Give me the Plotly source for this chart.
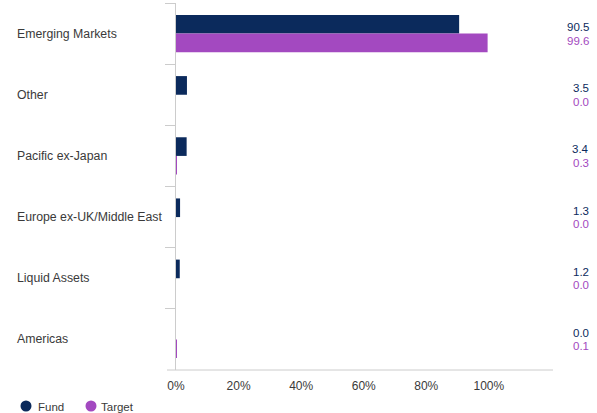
import plotly.graph_objects as go

categories = ["Emerging Markets", "Other", "Pacific ex-Japan",
              "Europe ex-UK/Middle East", "Liquid Assets", "Americas"]
fund = [90.5, 3.5, 3.4, 1.3, 1.2, 0.0]
target = [99.6, 0.0, 0.3, 0.0, 0.0, 0.1]
series_names = ["Fund", "Target"]
x_ticks = [0, 20, 40, 60, 80, 100]
x_tick_labels = ["0%", "20%", "40%", "60%", "80%", "100%"]

FUND_C = "#0b2a5c"
TARGET_C = "#a349c0"
TEXT_C = "#3a3a3a"

W, H = 597, 413
L, R, T, B = 176, 44, 3, 43
pw = W - L - R
ph = H - T - B


def px_x(p):
    return (p - L) / pw


def px_y(p):
    return (H - B - p) / ph


fig = go.Figure()
fig.add_trace(go.Bar(y=categories, x=fund, orientation="h", name=series_names[0],
                     marker=dict(color=FUND_C, line=dict(width=0)),
                     showlegend=False, offsetgroup="f", hoverinfo="skip"))
fig.add_trace(go.Bar(y=categories, x=target, orientation="h", name=series_names[1],
                     marker=dict(color=TARGET_C, line=dict(width=0)),
                     showlegend=False, offsetgroup="t", hoverinfo="skip"))

annotations = []
shapes = [dict(type="line", xref="paper", yref="paper",
               x0=px_x(167), x1=1, y0=0, y1=0,
               line=dict(color="#cccccc", width=1))]

for cat, f, t in zip(categories, fund, target):
    annotations.append(dict(xref="paper", yref="y", x=px_x(15), y=cat,
                            text=cat, showarrow=False, xanchor="left",
                            font=dict(size=12.3, color=TEXT_C)))
    annotations.append(dict(xref="paper", yref="y", x=px_x(591), y=cat,
                            yshift=6.5, text=f"{f:.1f}", showarrow=False,
                            xanchor="right", font=dict(size=11.5, color=FUND_C)))
    annotations.append(dict(xref="paper", yref="y", x=px_x(591), y=cat,
                            yshift=-7, text=f"{t:.1f}", showarrow=False,
                            xanchor="right", font=dict(size=11.5, color=TARGET_C)))

# legend (circle markers + labels)
r = 5.5
for name, color, cx, tx in [(series_names[0], FUND_C, 26, 36),
                            (series_names[1], TARGET_C, 91, 99)]:
    shapes.append(dict(type="circle", xref="paper", yref="paper",
                       x0=px_x(cx - r), x1=px_x(cx + r),
                       y0=px_y(406 + r), y1=px_y(406 - r),
                       fillcolor=color, line=dict(width=0)))
    annotations.append(dict(xref="paper", yref="paper", x=px_x(tx), y=px_y(406.5),
                            text=name, showarrow=False, xanchor="left",
                            yanchor="middle", font=dict(size=11.5, color=TEXT_C)))

fig.update_layout(
    width=W, height=H,
    margin=dict(l=L, r=R, t=T, b=B, autoexpand=False),
    paper_bgcolor="white", plot_bgcolor="white",
    font=dict(family="Liberation Sans, Arial, sans-serif", color=TEXT_C, size=12),
    barmode="group", bargap=0.39, bargroupgap=0,
    showlegend=False,
    hovermode=False,
    xaxis=dict(range=[0, 120.5], tickvals=x_ticks, ticktext=x_tick_labels,
               showgrid=False, zeroline=False, showline=False,
               ticks="", ticklabelstandoff=7,
               tickfont=dict(size=12, color=TEXT_C)),
    yaxis=dict(categoryorder="array", categoryarray=categories,
               autorange="reversed",
               showgrid=False, zeroline=False, showticklabels=False,
               showline=True, linecolor="#cccccc", linewidth=1,
               ticks="outside", ticklen=10, tickcolor="#cccccc",
               tickson="boundaries"),
    annotations=annotations,
    shapes=shapes,
)

fig.write_html("out.html", config={"displayModeBar": False},
               post_script="document.body.style.margin='0';document.body.style.overflow='hidden';")
